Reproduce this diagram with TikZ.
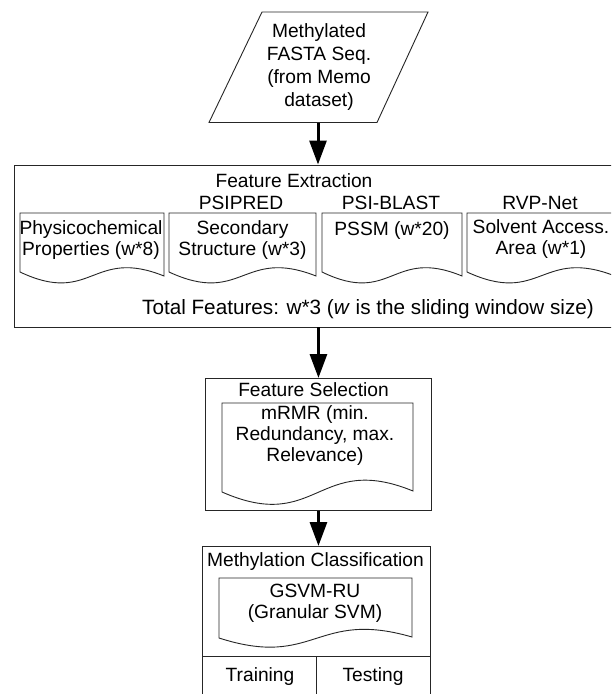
\documentclass[tikz,border=0pt]{standalone}
\usepackage{fontspec}
\setmainfont{Liberation Sans}
\usetikzlibrary{arrows.meta}
\newcommand{\mydoc}[7]{\draw[shapeline] (#1,#4) .. controls ({(#1+#2)/2},{#4+#5}) and ({(#1+#2)/2},{#4+#6}) .. (#2,{#4+#7}) -- (#2,#3) -- (#1,#3) -- cycle;}
\begin{document}
\begin{tikzpicture}[x=1pt,y=-1pt,
  every node/.style={font=\fontsize{19.2}{21}\selectfont, inner sep=0pt, align=center},
  shapeline/.style={draw=black!85, line width=0.9pt},
  boxnode/.style={shapeline, anchor=north west, inner sep=0pt},
  flowarrow/.style={line width=3pt, -{Triangle[length=24pt,width=17pt]}}]
\useasboundingbox (0,0) rectangle (611,694);
\clip (0,0) rectangle (611,694);
\fill[white] (0,0) rectangle (611,694);

% input parallelogram
\draw[shapeline] (262,12) -- (428,12) -- (377,122.5) -- (209,122.5) -- cycle;
\node[font=\fontsize{19.2}{23}\selectfont] (input) at (319,67) {Methylated\\FASTA Seq.\\(from Memo\\dataset)};
\coordinate (inb) at (318,122.5);

% feature extraction
\node[boxnode, minimum width=646pt, minimum height=162pt] (febox) at (14,164.5) {};
\node (fetitle) at (294,181) {Feature Extraction};
\node (psipred) at (241,203) {PSIPRED};
\node (psiblast) at (391,203) {PSI-BLAST};
\node (rvpnet) at (540,203) {RVP-Net};
\mydoc{20}{164}{213}{272}{34}{-25}{4}
\mydoc{169}{316}{213}{272}{34}{-25}{4}
\mydoc{322}{462}{213}{272}{34}{-25}{4}
\mydoc{467}{615}{213}{272}{34}{-25}{4}
\node (phys) at (91,240.5) {Physicochemical\\Properties (w*8)};
\node (sec) at (242.5,240.5) {Secondary\\Structure (w*3)};
\node (pssm) at (392,231) {PSSM (w*20)};
\node (sasa) at (541,239.5) {Solvent Access.\\Area (w*1)};
\node[font=\fontsize{20.7}{23}\selectfont] (total) at (368,309) {Total Features: w*3 (\textit{w} is the sliding window size)};

% feature selection
\node[boxnode, minimum width=226pt, minimum height=132pt] (fsbox) at (205,378) {};
\node (fstitle) at (313.5,390) {Feature Selection};
\mydoc{222}{413}{403}{492}{42}{-40}{-1}
\node (mrmr) at (315,436) {mRMR (min.\\Redundancy, max.\\Relevance)};

% methylation classification
\node[boxnode, minimum width=228pt, minimum height=200pt] (mcbox) at (202,546) {};
\node (mctitle) at (315.5,562) {Methylation Classification};
\mydoc{219}{412}{578}{638}{31}{-29}{-1}
\node (gsvm) at (315,603) {GSVM-RU\\(Granular SVM)};
\draw[shapeline] (202,656) -- (430,656);
\draw[shapeline] (316,656) -- (316,746);
\node (train) at (260,677) {Training};
\node (test) at (373,677) {Testing};

% arrows
\draw[flowarrow] (inb) -- (inb |- febox.north);
\draw[flowarrow] (febox.south -| fsbox.north) -- (fsbox.north);
\draw[flowarrow] (fsbox.south) -- (fsbox.south |- mcbox.north);
\end{tikzpicture}
\end{document}
